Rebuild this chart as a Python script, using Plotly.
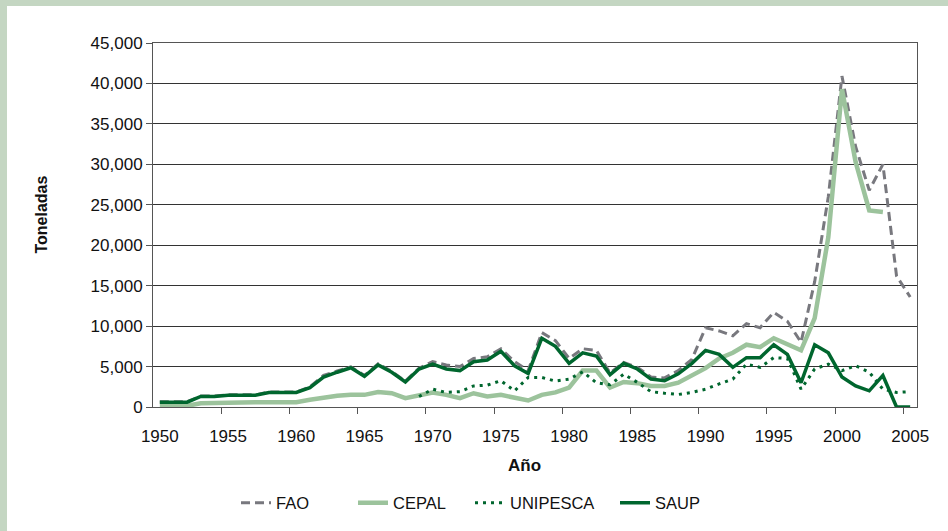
import plotly.graph_objects as go

years = list(range(1950, 2006))

fao = [650, 650, 650, 1350, 1350, 1500, 1500, 1500, 1850, 1850,
       1850, 2500, 3900, 4450, 4950, 3900, 5350, 4400, 3200, 4800,
       5600, 5200, 5000, 6000, 6200, 7200, 5600, 4500, 9200, 8200,
       6000, 7200, 7000, 4200, 5500, 4900, 3700, 3600, 4500, 5900,
       9800, 9400, 8800, 10300, 9800, 11700, 10600, 8000, 15500, 26000,
       40900, 32200, 26800, 30000, 16200, 13600]

cepal = [150, 150, 150, 450, 450, 580, 580, 580, 600, 600,
         600, 900, 1200, 1400, 1500, 1500, 1850, 1700, 1100, 1500,
         1800, 1500, 1100, 1700, 1300, 1500, 1100, 800, 1500, 1800,
         2400, 4500, 4500, 2400, 3100, 2950, 2600, 2600, 3000, 3900,
         4800, 6000, 6700, 7700, 7400, 8500, 7800, 7000, 11000, 21000,
         39300, 30300, 24300, 24100, None, None]

unipesca = [None] * 19 + [
    1300, 2200, 1800, 1900, 2600, 2700, 3250, 2000, 3650, 3650,
    3200, 3450, 4350, 3000, 2750, 4050, 3050, 1900, 1700, 1550,
    1800, 2200, 2850, 3450, 5300, 4900, 6100, 6000, 2200, 4700,
    5300, 4500, 5100, 4300, 2200, 1800, 1900]

saup = [600, 600, 600, 1300, 1300, 1450, 1450, 1450, 1800, 1800,
        1800, 2400, 3700, 4300, 4850, 3800, 5200, 4300, 3100, 4700,
        5300, 4700, 4500, 5600, 5800, 6900, 5100, 4150, 8500, 7500,
        5400, 6700, 6300, 4000, 5400, 4700, 3450, 3250, 4100, 5400,
        7000, 6500, 4900, 6100, 6100, 7700, 6500, 3000, 7700, 6700,
        3700, 2600, 2000, 3900, 0, 0]

x_labels = list(range(1950, 2006, 5))
x_ticks = [y - 0.5 for y in range(1955, 2006, 5)]

DARK = "#00662e"
LIGHT = "#9cc39c"
GRAY = "#78787e"

font = "Liberation Sans, Arial, sans-serif"
ml, mr, mt, mb = 153, 31, 43, 123
pw = 948 - ml - mr


def px_x(p):
    return (p - ml) / pw


fig = go.Figure()
fig.add_trace(go.Scatter(x=years, y=fao, name="FAO", mode="lines", legend="legend",
                         line=dict(color=GRAY, width=3, dash="9px,5px")))
fig.add_trace(go.Scatter(x=years, y=cepal, name="CEPAL", mode="lines", legend="legend2",
                         line=dict(color=LIGHT, width=4.5)))
fig.add_trace(go.Scatter(x=years, y=unipesca, name="UNIPESCA", mode="lines", legend="legend3",
                         line=dict(color=DARK, width=3, dash="3px,5px")))
fig.add_trace(go.Scatter(x=years, y=saup, name="SAUP", mode="lines", legend="legend4",
                         line=dict(color=DARK, width=3.5)))

leg_y = (408 - 503) / 365


def leg(xpix):
    return dict(orientation="h", x=px_x(xpix), xanchor="left", y=leg_y, yanchor="middle",
                font=dict(size=16.5), bgcolor="rgba(0,0,0,0)", borderwidth=0)


fig.update_layout(
    width=948, height=531,
    margin=dict(l=ml, r=mr, t=mt, b=mb, pad=0),
    paper_bgcolor="#c4d6c2",
    plot_bgcolor="white",
    font=dict(family=font, size=17, color="#111111"),
    showlegend=True,
    legend=leg(236),
    legend2=leg(353),
    legend3=leg(470),
    legend4=leg(615),
    xaxis=dict(range=[1949.5, 2005.5], tickvals=x_labels, ticktext=[str(v) for v in x_labels],
               ticks="outside", ticklen=14, tickcolor="rgba(0,0,0,0)",
               showgrid=False, zeroline=False, showline=True, linecolor="#555555",
               linewidth=1, mirror=True,
               minor=dict(tickmode="array", tickvals=x_ticks, ticks="outside",
                          ticklen=6, tickcolor="#555555", showgrid=False)),
    yaxis=dict(range=[0, 45000], dtick=5000, tickformat=",", ticks="outside",
               ticklen=6, tickcolor="#555555", showgrid=True, gridcolor="#333333",
               gridwidth=1, zeroline=False, showline=True, linecolor="#555555",
               linewidth=1, mirror=True),
    shapes=[dict(type="rect", xref="paper", yref="paper", xsizemode="pixel",
                 ysizemode="pixel", xanchor=0, yanchor=1,
                 x0=7 - ml, x1=948 - ml, y0=-(531 - mt), y1=mt - 6,
                 fillcolor="white", line=dict(width=0), layer="below")],
    annotations=[
        dict(text="<b>Toneladas</b>", xref="paper", yref="paper",
             x=px_x(42), y=(408 - 215) / 365,
             xanchor="center", yanchor="middle", textangle=-90,
             showarrow=False, font=dict(size=16)),
        dict(text="<b>Año</b>", xref="paper", yref="paper",
             x=px_x(524), y=(408 - 467) / 365,
             xanchor="center", yanchor="middle",
             showarrow=False, font=dict(size=17)),
    ],
)

fig.write_html("out.html", config={"displayModeBar": False},
               post_script="document.body.style.margin='0';document.body.style.padding='0';")
